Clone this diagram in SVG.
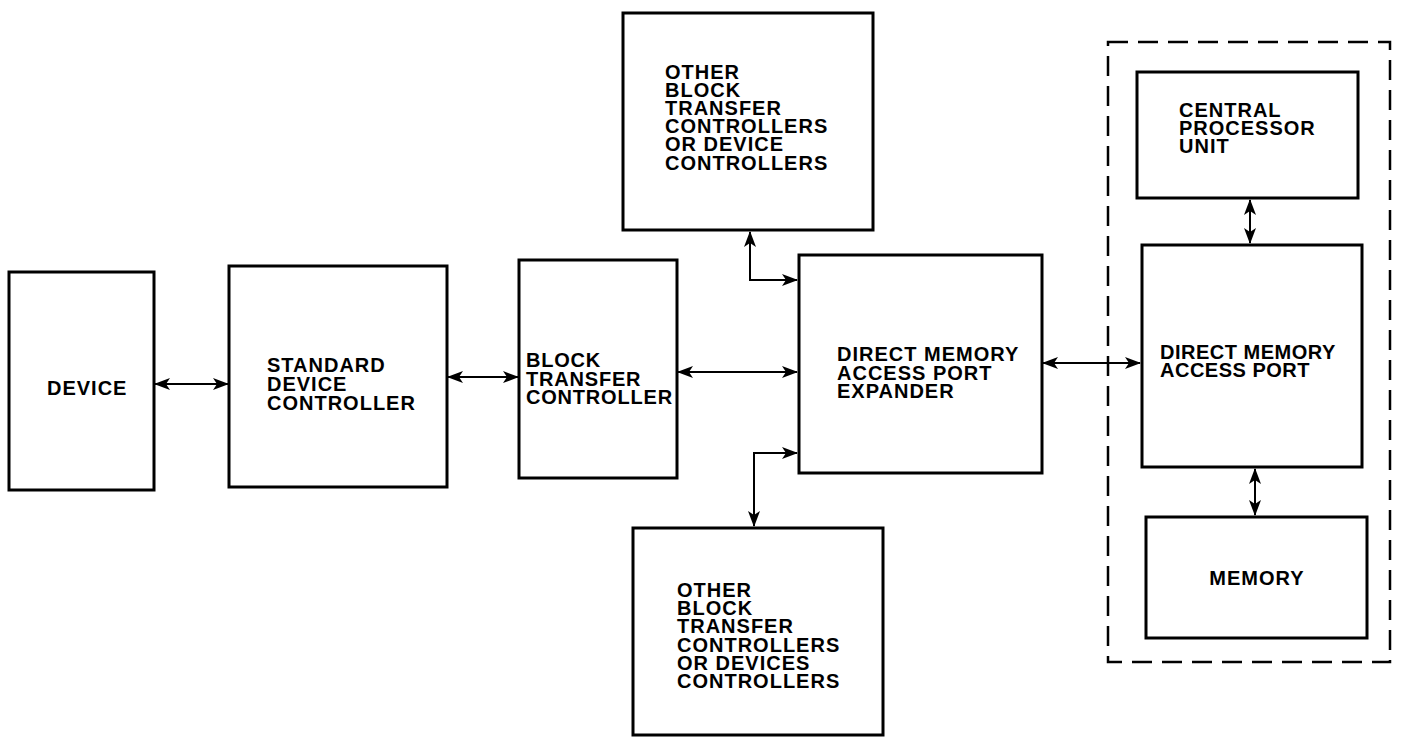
<svg xmlns="http://www.w3.org/2000/svg" width="1406" height="737" viewBox="0 0 1406 737">
<defs>
<marker id="ah" markerWidth="16" markerHeight="12" refX="15" refY="6" orient="auto-start-reverse" markerUnits="userSpaceOnUse">
<path d="M0,0 L16,6 L0,12 L4,6 Z" fill="#000"/>
</marker>
</defs>
<style>
.box{fill:#fff;stroke:#000;stroke-width:3}
.dash{fill:none;stroke:#000;stroke-width:2.5;stroke-dasharray:20 10}
.con{fill:none;stroke:#000;stroke-width:2;marker-start:url(#ah);marker-end:url(#ah)}
text{font-family:"Liberation Sans",Arial,sans-serif;font-size:20px;font-weight:bold;letter-spacing:1px;fill:#000}
</style>
<rect width="1406" height="737" fill="#fff"/>
<g id="cpu-group">
<rect class="dash" x="1108" y="42" width="282" height="620"/>
</g>
<g id="device">
<rect class="box" x="9" y="272" width="145" height="218"/>
<text x="47" y="395">DEVICE</text>
</g>
<g id="standard-device-controller">
<rect class="box" x="229" y="266" width="218" height="221"/>
<text x="267" y="372">STANDARD<tspan x="267" dy="19">DEVICE</tspan><tspan x="267" dy="19">CONTROLLER</tspan></text>
</g>
<g id="block-transfer-controller">
<rect class="box" x="519" y="260" width="158" height="218"/>
<text x="526" y="367" style="letter-spacing:0.8px">BLOCK<tspan x="526" dy="19">TRANSFER</tspan><tspan x="526" dy="18">CONTROLLER</tspan></text>
</g>
<g id="dma-port-expander">
<rect class="box" x="799" y="255" width="243" height="218"/>
<text x="837" y="361">DIRECT MEMORY<tspan x="837" dy="19">ACCESS PORT</tspan><tspan x="837" dy="18">EXPANDER</tspan></text>
</g>
<g id="other-top">
<rect class="box" x="623" y="13" width="250" height="217"/>
<text x="665" y="79">OTHER<tspan x="665" dy="18">BLOCK</tspan><tspan x="665" dy="18">TRANSFER</tspan><tspan x="665" dy="18">CONTROLLERS</tspan><tspan x="665" dy="18">OR DEVICE</tspan><tspan x="665" dy="19">CONTROLLERS</tspan></text>
</g>
<g id="other-bottom">
<rect class="box" x="633" y="528" width="250" height="207"/>
<text x="677" y="597">OTHER<tspan x="677" dy="18">BLOCK</tspan><tspan x="677" dy="18">TRANSFER</tspan><tspan x="677" dy="19">CONTROLLERS</tspan><tspan x="677" dy="18">OR DEVICES</tspan><tspan x="677" dy="18">CONTROLLERS</tspan></text>
</g>
<g id="cpu">
<rect class="box" x="1137" y="72" width="221" height="126"/>
<text x="1179" y="117">CENTRAL<tspan x="1179" dy="18">PROCESSOR</tspan><tspan x="1179" dy="18">UNIT</tspan></text>
</g>
<g id="dma-port">
<rect class="box" x="1142" y="245" width="220" height="222"/>
<text x="1160" y="359" style="letter-spacing:0.5px">DIRECT MEMORY<tspan x="1160" dy="18">ACCESS PORT</tspan></text>
</g>
<g id="memory">
<rect class="box" x="1146" y="517" width="221" height="121"/>
<text x="1257" y="585" text-anchor="middle">MEMORY</text>
</g>
<g id="connectors">
<path class="con" d="M155,384 H228"/>
<path class="con" d="M448,377 H518"/>
<path class="con" d="M678,372 H797"/>
<path class="con" d="M750,232 V280 H797"/>
<path class="con" d="M797,453 H754 V526"/>
<path class="con" d="M1043,363 H1140"/>
<path class="con" d="M1250,200 V243"/>
<path class="con" d="M1255,469 V515"/>
</g>
</svg>
